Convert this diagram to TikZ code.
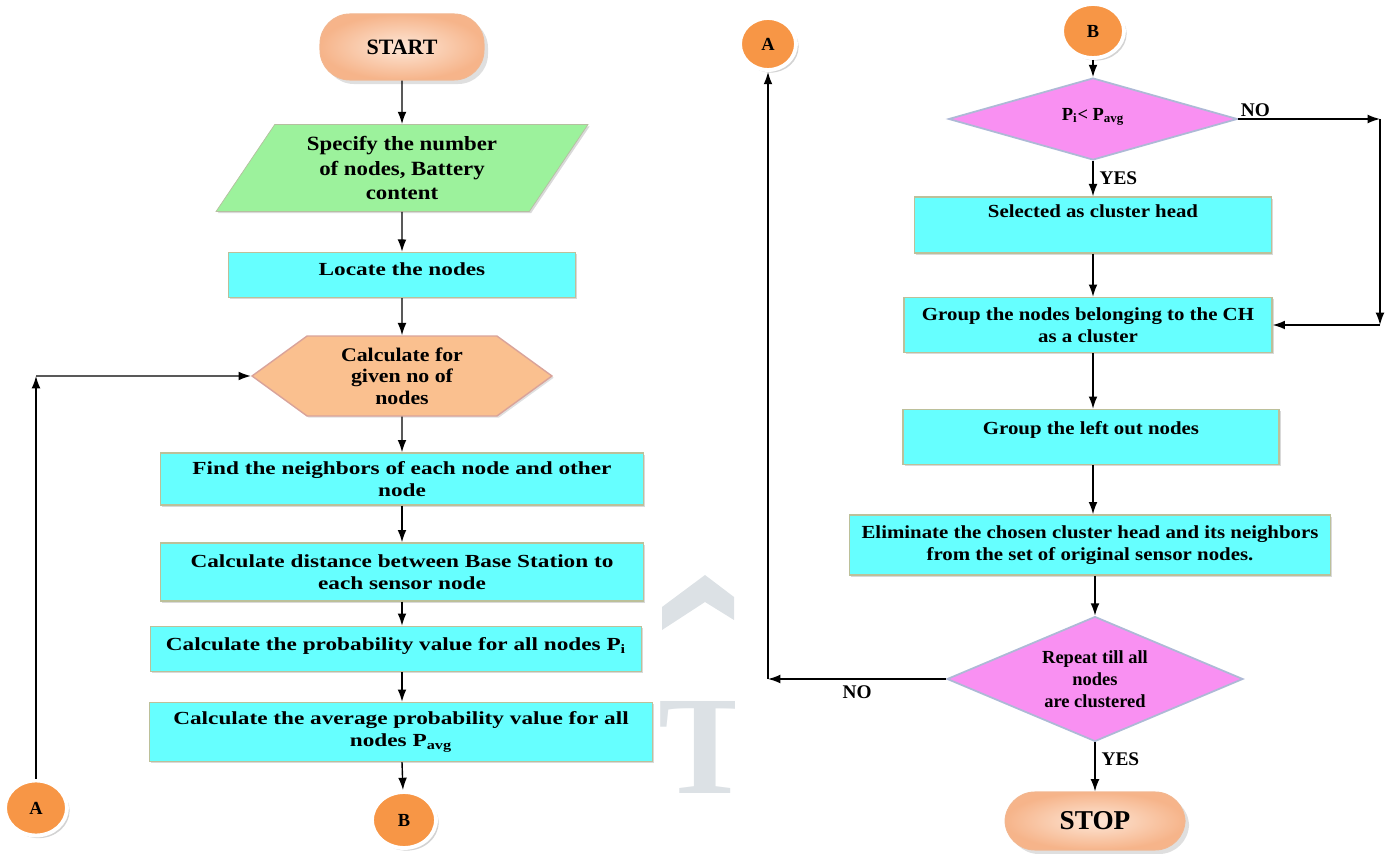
\documentclass[tikz,border=0pt]{standalone}
\usepackage{fontspec}
\setmainfont{Liberation Serif}
\newfontfamily\leftfont{Liberation Serif}[FakeStretch=1.26]
\newfontfamily\rightfont{Liberation Serif}[FakeStretch=1.13]
\usetikzlibrary{arrows.meta,shapes.geometric,shapes.symbols,shadows}
\definecolor{boxfill}{HTML}{66FFFF}
\definecolor{boxedge}{HTML}{BCC09A}
\definecolor{inputfill}{HTML}{9CF29C}
\definecolor{inputedge}{HTML}{B5BFA0}
\definecolor{hexfill}{HTML}{FAC08F}
\definecolor{hexedge}{HTML}{D9A39A}
\definecolor{decfill}{HTML}{F990F2}
\definecolor{decedge}{HTML}{AEB9D6}
\definecolor{conorange}{HTML}{F79646}
\definecolor{termdark}{HTML}{F6B48A}
\definecolor{termlight}{HTML}{FDE6D6}
\definecolor{termedge}{HTML}{F2B790}
\definecolor{wmark}{HTML}{DCE1E5}
\newcommand{\lowsub}[1]{\textsubscript{#1}}

\begin{document}
\begin{tikzpicture}[x=0.02cm, y=-0.02cm,
    base/.style={font=\bfseries\fontsize{10.5}{12.5}\selectfont,
        align=center, inner sep=2pt},
    procbox/.style={base, rectangle, fill=boxfill, draw=boxedge,
        line width=0.8pt, minimum width=#1,
        drop shadow={shadow xshift=1pt, shadow yshift=-1pt, opacity=0.3}},
    procL/.style={procbox=#1, font=\leftfont\bfseries\fontsize{10.5}{12.5}\selectfont},
    procR/.style={procbox=#1, font=\rightfont\bfseries\fontsize{10.5}{12.5}\selectfont},
    term/.style={rectangle, rounded corners=0.6cm, inner color=termlight,
        outer color=termdark, draw=termedge, line width=0.6pt,
        minimum width=#1, drop shadow={opacity=0.25},
        font=\bfseries\fontsize{12.5}{14}\selectfont},
    conn/.style={ellipse, fill=conorange, draw=white, line width=2.2pt,
        drop shadow={opacity=0.35, shadow xshift=1.5pt, shadow yshift=-1.5pt},
        minimum width=#1, inner sep=0pt,
        font=\bfseries\fontsize{10.5}{12}\selectfont},
    decision/.style={base, diamond, fill=decfill, draw=decedge,
        line width=1pt, aspect=#1, inner sep=0pt},
    arr/.style={draw, line width=0.8pt, -{Latex[length=7pt,width=5pt]}},
    lbl/.style={font=\bfseries\fontsize{11}{12}\selectfont}
]
\useasboundingbox (0,0) rectangle (1393,854);

% watermark
\begin{scope}
    \clip (600,560) rectangle (734,800);
    \fill[wmark] (662,630) -- (662,607) -- (705,575) -- (734,597)
        -- (734,620) -- (705,602) -- cycle;
    \node[anchor=base, inner sep=0pt, text=wmark,
        font=\bfseries\fontsize{80}{80}\selectfont] (wmT) at (705,793) {T};
\end{scope}

% left column
\node[term=3.28cm, minimum height=1.32cm] (start) at (402,47) {START};
\node[base, trapezium, trapezium left angle=50, trapezium right angle=130,
    trapezium stretches body, fill=inputfill, draw=inputedge,
    minimum width=7.44cm, minimum height=1.74cm,
    font=\rightfont\bfseries\fontsize{11.5}{13.8}\selectfont,
    drop shadow={opacity=0.3, shadow xshift=1pt, shadow yshift=-1pt}]
    (spec) at (402,168) {Specify the number\\of nodes, Battery\\content};
\node[procL=6.94cm, minimum height=0.9cm, text depth=0.25cm]
    (locate) at (402,275) {Locate the nodes};
\node[base, signal, signal to=west and east, signal pointer angle=72,
    fill=hexfill, draw=hexedge, line width=0.8pt,
    minimum width=6cm, minimum height=1.6cm,
    font=\rightfont\bfseries\fontsize{11}{12.2}\selectfont,
    drop shadow={opacity=0.25, shadow xshift=1pt, shadow yshift=-1pt}]
    (calc) at (402,376) {Calculate for\\given no of\\nodes};
\node[procL=9.66cm, minimum height=1.04cm] (neigh) at (402,479)
    {Find the neighbors of each node and other\\node};
\node[procL=9.66cm, minimum height=1.16cm] (dist) at (402,572)
    {Calculate distance between Base Station to\\each sensor node};
\node[procL=9.82cm, minimum height=0.9cm, text depth=0.18cm] (prob) at (396,649)
    {Calculate the probability value for all nodes P\lowsub{i}};
\node[procL=10.06cm, minimum height=1.18cm] (avg) at (401,732)
    {Calculate the average probability value for all\\nodes P\lowsub{avg}};
\node[conn=1.28cm, minimum height=1.12cm] (Bl) at (404,820) {B};
\node[conn=1.24cm, minimum height=1.1cm] (Al) at (36,808) {A};
\coordinate (cA) at (36,376);

\draw[arr] (start) -- (spec);
\draw[arr] (spec) -- (locate);
\draw[arr] (locate) -- (calc);
\draw[arr] (calc) -- (neigh);
\draw[arr] (neigh) -- (dist);
\draw[arr] (dist.south) -- (dist.south |- prob.north);
\draw[arr] (prob.south -| dist.south) -- (dist.south |- avg.north);
\draw[arr] (avg.south -| dist.south) -- (Bl);
\draw[arr] (Al) -- (cA);
\draw[arr] (cA) -- (calc);

% right column
\node[conn=1.24cm, minimum height=1.08cm] (Br) at (1093,31) {B};
\node[conn=1.12cm, minimum height=1.04cm] (Ar) at (768,44) {A};
\node[decision=3.5, minimum width=5.78cm, minimum height=1.64cm,
    text depth=0.2cm] (cond) at (1093,119)
    {P\lowsub{i}< P\lowsub{avg}};
\node[procR=7.14cm, minimum height=1.12cm, text depth=0.55cm]
    (sel) at (1093,225) {Selected as cluster head};
\node[procR=7.36cm, minimum height=1.1cm] (grp) at (1088,325)
    {Group the nodes belonging to the CH\\as a cluster};
\node[procR=7.52cm, minimum height=1.1cm, text depth=0.35cm]
    (lout) at (1091,437) {Group the left out nodes};
\node[procR=9.62cm, minimum height=1.2cm] (elim) at (1090,545)
    {Eliminate the chosen cluster head and its neighbors\\from the set of original sensor nodes.};
\node[decision=2.4, minimum width=5.92cm, minimum height=2.5cm]
    (rep) at (1095,679) {Repeat till all\\nodes\\are clustered};
\node[term=3.6cm, minimum height=1.16cm,
    font=\bfseries\fontsize{15.5}{17}\selectfont] (stop) at (1095,821) {STOP};
\coordinate (cNo1) at (1380,119);
\coordinate (cNo2) at (1380,325);
\coordinate (cRep) at (768,679);

\draw[arr] (Br) -- (cond);
\draw[arr] (cond) -- node[lbl, pos=0.5, right] (yes1) {YES} (sel);
\draw[arr] (cond.east) -- node[lbl, pos=0, anchor=south west, inner sep=1pt]
    (no1) {NO} (cNo1);
\draw[arr] (cNo1) -- (cNo2);
\draw[arr] (cNo2) -- (grp);
\draw[arr] (sel) -- (sel |- grp.north);
\draw[arr] (grp.south -| sel.south) -- (sel.south |- lout.north);
\draw[arr] (lout.south -| sel.south) -- (sel.south |- elim.north);
\draw[arr] (elim.south -| rep.north) -- (rep);
\draw[arr] (rep) -- node[lbl, below, pos=0.5] (no2) {NO} (cRep);
\draw[arr] (cRep) -- (Ar);
\draw[arr] (rep) -- node[lbl, right, pos=0.35] (yes2) {YES} (stop);
\end{tikzpicture}
\end{document}
